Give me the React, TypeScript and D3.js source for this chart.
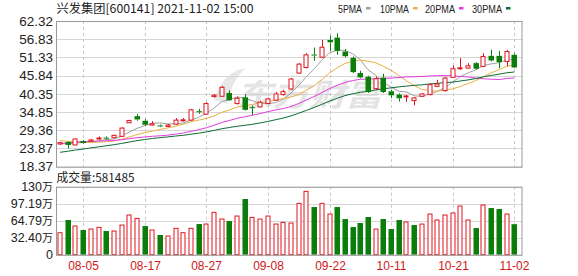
import React from 'react';
import * as d3 from 'd3';

const dates = [
  '08-02','08-03','08-04','08-05','08-06','08-09','08-10','08-11','08-12','08-13',
  '08-16','08-17','08-18','08-19','08-20','08-23','08-24','08-25','08-26','08-27',
  '08-30','08-31','09-01','09-02','09-03','09-06','09-07','09-08','09-09','09-10',
  '09-13','09-14','09-15','09-16','09-17','09-22','09-23','09-24','09-27','09-28',
  '09-29','09-30','10-08','10-11','10-12','10-13','10-14','10-15','10-18','10-19',
  '10-20','10-21','10-22','10-25','10-26','10-27','10-28','10-29','11-01','11-02',
];
const tickLabels = ['08-05','08-17','08-27','09-08','09-22','10-11','10-21','11-02'];

const open = [
  25.2,25.8,24.9,26.1,26.0,26.8,27.1,27.1,27.5,31.6,
  33.6,32.2,30.9,30.8,30.5,31.2,32.2,32.4,35.1,34.2,
  39.5,39.6,40.6,37.4,39.3,36.3,36.4,37.4,38.4,40.1,
  41.8,46.6,48.3,52.2,51.4,56.6,57.3,53.1,51.2,46.6,
  45.5,41.9,45.2,41.1,40.1,39.4,38.3,39.6,40.1,42.6,
  41.3,45.3,47.9,48.1,49.6,48.6,51.8,51.8,50.1,52.1,
];
const close = [
  25.6,24.9,26.7,25.5,26.4,27.0,26.9,27.8,30.0,32.3,
  32.6,31.0,31.3,30.6,30.9,32.4,32.5,35.5,34.8,37.4,
  39.9,42.3,38.4,39.0,35.5,36.0,37.8,38.8,40.3,41.0,
  44.8,49.3,52.1,51.9,54.4,55.9,53.3,51.7,46.9,45.3,
  40.9,44.9,40.9,39.9,39.0,39.7,39.1,40.3,43.1,43.3,
  45.1,47.9,48.2,48.8,47.9,51.6,50.4,49.9,53.1,48.3,
];
const high = [
  25.8,26.0,26.9,26.3,26.7,27.5,27.5,28.0,30.2,32.5,
  34.2,32.7,32.1,31.1,31.2,33.0,33.0,35.8,35.8,37.8,
  40.3,42.7,41.4,39.5,40.2,36.8,38.3,39.2,40.9,41.6,
  45.1,49.6,52.6,54.3,56.6,57.9,58.6,53.9,51.6,47.3,
  45.8,45.5,46.4,41.5,40.5,40.0,39.3,40.6,43.6,44.6,
  45.4,48.9,51.1,49.6,49.9,52.6,53.6,53.3,53.6,52.6,
];
const low = [
  24.9,23.9,24.8,25.3,25.9,26.5,26.5,26.9,27.4,31.5,
  32.2,30.6,30.8,30.3,30.3,31.1,32.0,32.3,34.3,34.0,
  39.2,39.4,38.2,37.1,35.3,33.9,36.2,37.2,38.2,39.8,
  41.5,46.4,48.0,50.3,51.2,53.3,52.1,51.3,46.6,45.0,
  40.6,41.5,40.6,39.1,38.0,37.9,36.9,39.4,39.9,42.4,
  41.0,45.1,47.6,47.9,47.6,48.4,50.1,48.1,48.6,48.1,
];
// volume in 万 (10k shares)
const volume = [
  41.9,66.1,54.6,47.0,48.9,52.1,45.1,45.1,56.5,75.6,
  69.2,54.6,47.0,37.5,35.6,50.2,41.9,50.2,58.4,58.4,
  80.7,68.0,64.2,73.7,106.1,71.1,68.0,73.7,58.4,61.6,
  60.4,97.8,120.7,90.8,97.8,77.5,90.8,68.0,52.7,60.4,
  71.8,48.9,68.0,48.9,66.1,62.3,56.5,58.4,77.5,66.1,
  75.6,79.4,92.8,66.1,50.8,94.7,88.9,87.0,77.5,58.1485,
];
// closes before the visible window (July 2021), estimated from the MA lines
const priorCloses = [
  15.5,15.8,16.2,16.6,17.0,17.5,18.0,18.6,19.3,20.0,
  21.0,22.0,23.0,24.0,24.8,25.5,26.0,25.6,25.9,26.4,
  26.8,27.3,27.6,27.0,26.3,25.8,25.2,25.0,25.4,
];

const priceTicks = [18.37, 23.87, 29.36, 34.85, 40.35, 45.84, 51.33, 56.83, 62.32];
const volTicks = [0, 32.40, 64.79, 97.19, 129.58];
const volTickNums = ['0', '32.40', '64.79', '97.19', '130'];

const maPeriods = [5, 10, 20, 30];
const maNames = ['5PMA', '10PMA', '20PMA', '30PMA'];
const maColors = ['#a0a0a0', '#eab040', '#e23ce2', '#0e6b34'];

const titleText = '兴发集团[600141] 2021-11-02 15:00';
const volTitle = '成交量:581485';

const RED = '#e0141e';
const GREEN = '#0a7d0a';

export default function App() {
  const L = 56, R = 522.5;
  const pTop = 21, pBot = 166.6;
  const vTop = 186.7, vBot = 254.7;

  const x = d3.scalePoint<string>().domain(dates).range([60, 514.3]);
  const y = d3.scaleLinear().domain([priceTicks[0], priceTicks[priceTicks.length - 1]]).range([pBot, pTop]);
  const yv = d3.scaleLinear().domain([0, volTicks[volTicks.length - 1]]).range([vBot, vTop]);

  const all = [...priorCloses, ...close];
  const off = priorCloses.length;
  const maSeries = maPeriods.map((n) =>
    close.map((_, i) => d3.mean(all.slice(i + off - n + 1, i + off + 1)) as number)
  );

  const lineGen = d3.line<number>().x((_, i) => x(dates[i]) as number).y((v) => y(v));

  const bw = 5;
  const cxr = (i: number) => Math.round(x(dates[i]) as number);

  const axisFont = '"Liberation Sans", Arial, sans-serif';
  const cjkFont = '"Noto Sans CJK SC", "Liberation Sans", sans-serif';

  const legendX = [338, 380, 425, 472];
  const legendW = [24, 29, 30, 30];

  return (
    <svg width={578} height={276} style={{ position: 'absolute', left: 0, top: 0, background: '#fff' }}>
      <rect x={0} y={0} width={578} height={276} fill="#fff" />
      {/* title */}
      <text x={56.5} y={12.5} fontSize={12} fontFamily={cjkFont} fill="#222" textLength={197} lengthAdjust="spacingAndGlyphs">{titleText}</text>
      {/* legend */}
      {maNames.map((n, k) => (
        <g key={n}>
          <text x={legendX[k]} y={12.5} fontSize={11} fontFamily={axisFont} fill="#222" textLength={legendW[k]} lengthAdjust="spacingAndGlyphs">{n}</text>
          <rect x={legendX[k] + legendW[k] + 4} y={7} width={4.5} height={2.5} fill={maColors[k]} />
        </g>
      ))}

      {/* price grid */}
      {priceTicks.map((t) => (
        <line key={t} x1={L} x2={R} y1={Math.round(y(t)) + 0.5} y2={Math.round(y(t)) + 0.5} stroke="#d6d6d6" />
      ))}
      {tickLabels.map((d) => (
        <line key={d} x1={cxr(dates.indexOf(d)) + 0.5} x2={cxr(dates.indexOf(d)) + 0.5} y1={pTop} y2={pBot} stroke="#c8c8c8" strokeDasharray="3,3" />
      ))}
      {priceTicks.map((t) => (
        <text key={'l' + t} x={53} y={y(t)} dy="0.36em" textAnchor="end" fontSize={13.5} fontFamily={axisFont} fill="#222">{t.toFixed(2)}</text>
      ))}

      {/* watermark */}
      <g opacity={0.55}>
        <path d="M214,100 C220,80 232,70 246,68 C236,76 230,88 228,104 Z" fill="#d4d4d4" />
        <text x={236} y={106} fontSize={31} fontWeight="bold" fontStyle="italic" fontFamily={cjkFont} fill="#cfcfcf" textLength={146} lengthAdjust="spacingAndGlyphs">东方财富</text>
      </g>

      {/* MA lines */}
      {maSeries.map((s, k) => (
        <path key={k} d={lineGen(s) as string} fill="none" stroke={maColors[k]} strokeWidth={1} />
      ))}

      {/* candles */}
      {close.map((c, i) => {
        const o = open[i];
        const up = c >= o;
        const cx = cxr(i) + 0.5;
        const top = y(Math.max(o, c));
        const bot = y(Math.min(o, c));
        const h = Math.max(1, bot - top);
        const col = up ? RED : GREEN;
        return (
          <g key={i}>
            <line x1={cx} x2={cx} y1={y(high[i])} y2={top} stroke={col} />
            <line x1={cx} x2={cx} y1={top + h} y2={y(low[i])} stroke={col} />
            {up ? (
              <rect x={cx - 2.5} y={top} width={bw - 1} height={h} fill="#fff" stroke={col} strokeWidth={1} />
            ) : (
              <rect x={cx - 3} y={top} width={bw + 0.5} height={h} fill={col} />
            )}
          </g>
        );
      })}
      <rect x={L + 0.5} y={pTop + 0.5} width={R - L - 1} height={pBot - pTop} fill="none" stroke="#9a9a9a" />

      {/* volume */}
      <text x={56.5} y={182} fontSize={12} fontFamily={cjkFont} fill="#222" textLength={78} lengthAdjust="spacingAndGlyphs">{volTitle}</text>
      {volTicks.map((t) => (
        <line key={'v' + t} x1={L} x2={R} y1={Math.round(yv(t)) + 0.5} y2={Math.round(yv(t)) + 0.5} stroke="#d6d6d6" />
      ))}
      {tickLabels.map((d) => (
        <line key={'vd' + d} x1={cxr(dates.indexOf(d)) + 0.5} x2={cxr(dates.indexOf(d)) + 0.5} y1={vTop} y2={vBot} stroke="#c8c8c8" strokeDasharray="3,3" />
      ))}
      {volTicks.map((t, k) => (
        <text key={'vl' + t} x={53} y={yv(t)} dy="0.36em" textAnchor="end" fontSize={12.5} fontFamily={axisFont} fill="#222">
          {volTickNums[k]}
          {k > 0 ? <tspan fontFamily={cjkFont} fontSize={11}>万</tspan> : null}
        </text>
      ))}
      {volume.map((v, i) => {
        const prev = i === 0 ? priorCloses[priorCloses.length - 1] : close[i - 1];
        const up = close[i] >= prev;
        const cx = cxr(i) + 0.5;
        const top = yv(v);
        return up ? (
          <rect key={'vb' + i} x={cx - 2.5} y={top} width={bw - 1} height={vBot - top} fill="#fff" stroke={RED} />
        ) : (
          <rect key={'vb' + i} x={cx - 3} y={top} width={bw + 0.5} height={vBot - top} fill={GREEN} />
        );
      })}
      <rect x={L + 0.5} y={vTop + 0.5} width={R - L - 1} height={vBot - vTop} fill="none" stroke="#9a9a9a" />

      {/* x labels */}
      {tickLabels.map((d) => (
        <text key={'xl' + d} x={cxr(dates.indexOf(d)) + 0.5} y={270} textAnchor="middle" fontSize={12} fontFamily={axisFont} fill="#d01818">{d}</text>
      ))}
    </svg>
  );
}
